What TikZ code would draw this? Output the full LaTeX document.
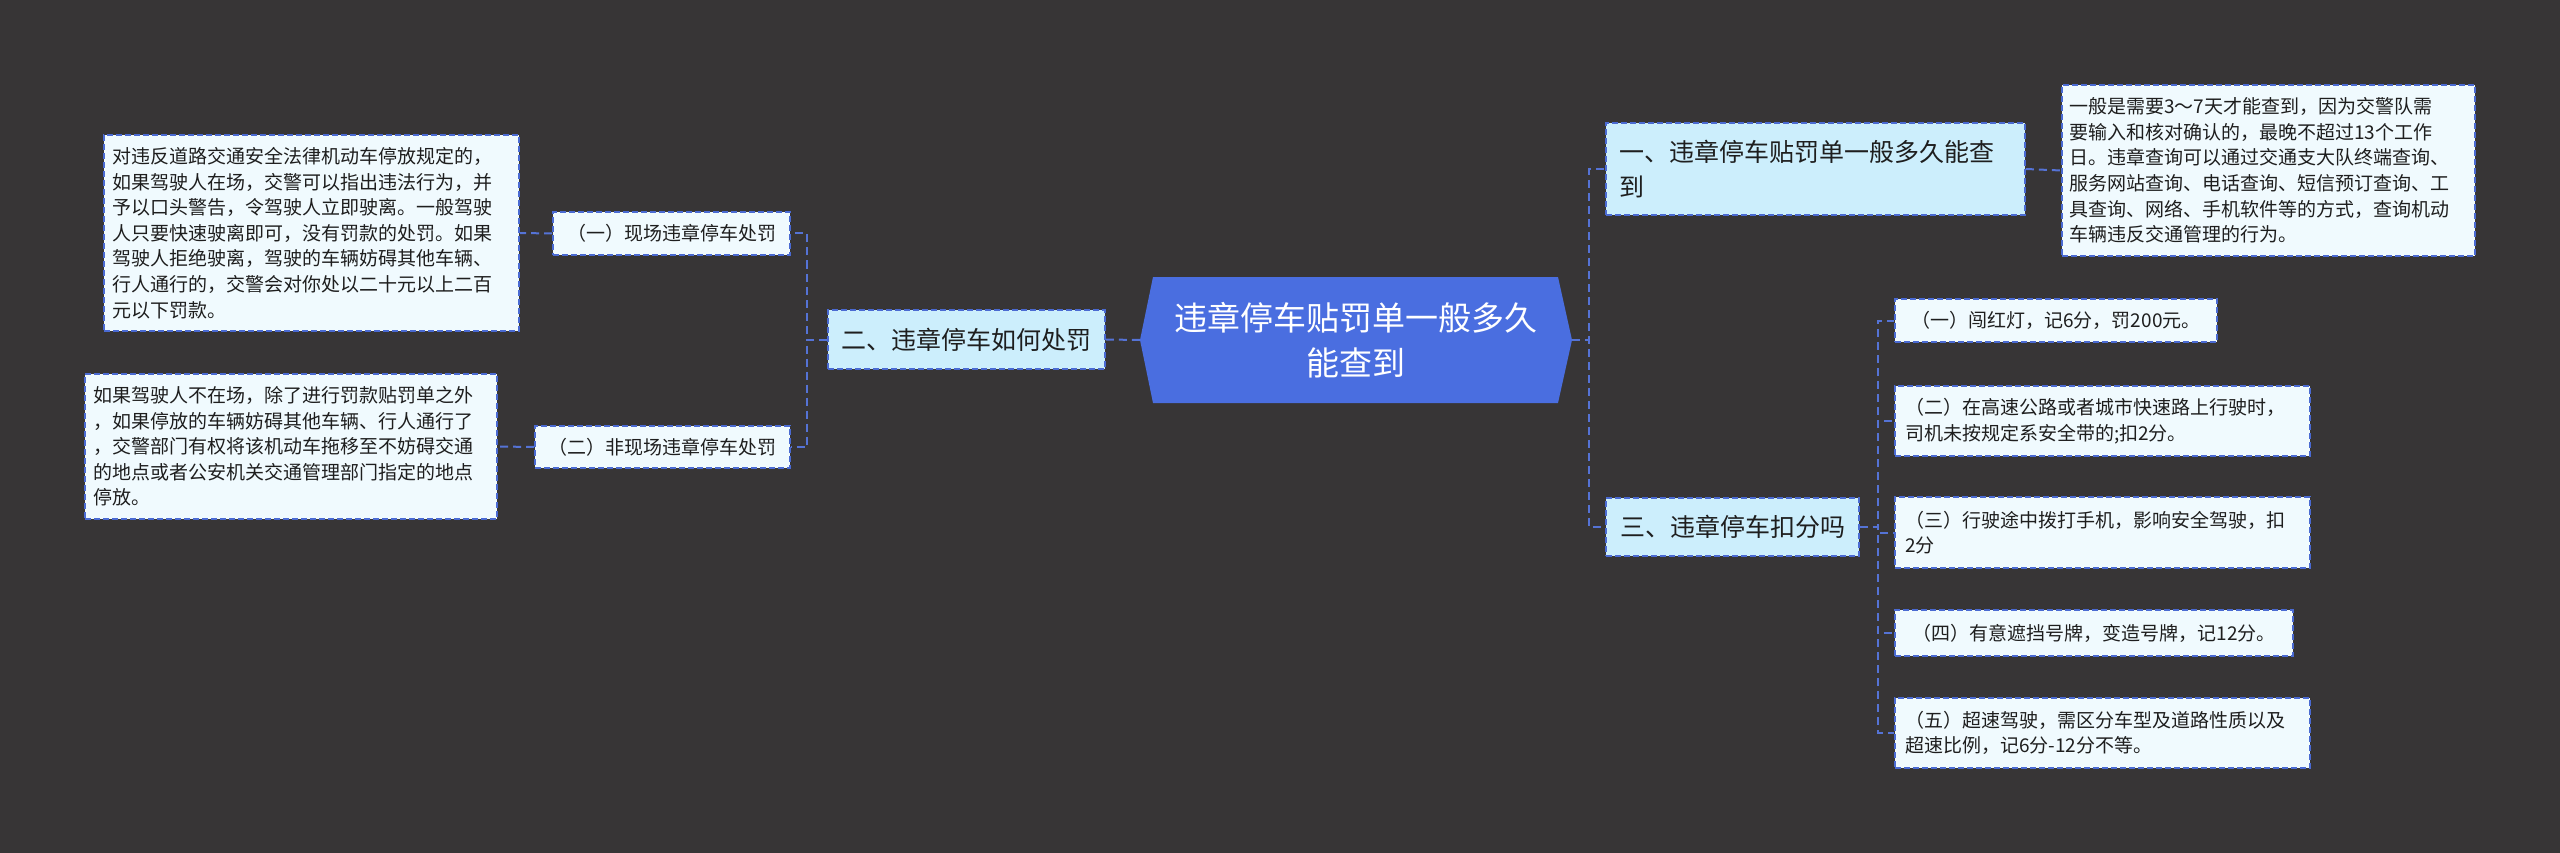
\documentclass[tikz,border=0pt]{standalone}
\usepackage{fontspec}
\setmainfont{Noto Sans CJK SC}
\definecolor{bgc}{HTML}{373536}
\definecolor{lonefill}{HTML}{CCEEFC}
\definecolor{leaffill}{HTML}{F0FAFE}
\definecolor{bordc}{HTML}{4A6AD2}
\definecolor{linec}{HTML}{5573D6}
\definecolor{centfill}{HTML}{4A6EE0}
\definecolor{txtc}{HTML}{1E1E1E}
\begin{document}
\begin{tikzpicture}[x=1pt,y=-1pt,
  boxbase/.style={draw=bordc, line width=1.8pt, dash pattern=on 6pt off 3pt, text=txtc, inner ysep=0pt},
  lvlone/.style={boxbase, fill=lonefill, font=\fontsize{25}{35}\selectfont, inner xsep=13pt},
  leaf/.style={boxbase, fill=leaffill, font=\fontsize{19}{25.6}\selectfont, inner xsep=8pt},
  conn/.style={draw=linec, line width=2pt, dash pattern=on 8pt off 5pt},
  centnode/.style={font=\fontsize{33}{45}\selectfont, text=white, align=center, inner sep=0pt}
]
\useasboundingbox (0,0) rectangle (2560,853);
\fill[bgc] (0,0) rectangle (2560,853);

% central hexagon
\fill[centfill] (1140,340) -- (1153,277) -- (1558,277) -- (1572,340) -- (1558,403) -- (1153,403) -- cycle;
\node[centnode, minimum width=432pt, minimum height=126pt] (c) at (1356,340) {违章停车贴罚单一般多久\\能查到};

% right level-one
\node[lvlone, minimum width=419pt, minimum height=92pt, text width=393pt, align=left] (n1) at (1815.5,169) {一、违章停车贴罚单一般多久能查\\到};
\node[lvlone, minimum width=253pt, minimum height=58pt] (n3) at (1732.5,527) {三、违章停车扣分吗};
% left level-one
\node[lvlone, minimum width=277pt, minimum height=59pt] (n2) at (966.5,339.5) {二、违章停车如何处罚};

% right text box
\node[leaf, inner xsep=7pt, minimum height=171pt, text width=399pt, align=left] (r1) at (2268.5,170.5) {一般是需要3～7天才能查到，因为交警队需\\要输入和核对确认的，最晚不超过13个工作\\日。违章查询可以通过交通支大队终端查询、\\服务网站查询、电话查询、短信预订查询、工\\具查询、网络、手机软件等的方式，查询机动\\车辆违反交通管理的行为。};

% children of 三
\node[leaf, minimum width=322pt, minimum height=43pt] (t1) at (2056,320.5) {（一）闯红灯，记6分，罚200元。};
\node[leaf, inner xsep=10pt, minimum height=70pt, text width=395pt, align=left] (t2) at (2102.5,421) {（二）在高速公路或者城市快速路上行驶时，\\司机未按规定系安全带的;扣2分。};
\node[leaf, inner xsep=10pt, minimum height=71pt, text width=395pt, align=left] (t3) at (2102.5,532.5) {（三）行驶途中拨打手机，影响安全驾驶，扣\\2分};
\node[leaf, minimum width=398pt, minimum height=46pt] (t4) at (2094,633) {（四）有意遮挡号牌，变造号牌，记12分。};
\node[leaf, inner xsep=10pt, minimum height=70pt, text width=395pt, align=left] (t5) at (2102.5,733) {（五）超速驾驶，需区分车型及道路性质以及\\超速比例，记6分-12分不等。};

% children of 二
\node[leaf, minimum width=237pt, minimum height=43pt] (l1) at (671.5,233.5) {（一）现场违章停车处罚};
\node[leaf, minimum width=255pt, minimum height=42pt] (l2) at (662.5,447) {（二）非现场违章停车处罚};

% left text boxes
\node[leaf, minimum height=196pt, text width=399pt, align=left] (lb1) at (311.5,233) {对违反道路交通安全法律机动车停放规定的，\\如果驾驶人在场，交警可以指出违法行为，并\\予以口头警告，令驾驶人立即驶离。一般驾驶\\人只要快速驶离即可，没有罚款的处罚。如果\\驾驶人拒绝驶离，驾驶的车辆妨碍其他车辆、\\行人通行的，交警会对你处以二十元以上二百\\元以下罚款。};
\node[leaf, minimum height=145pt, text width=396pt, align=left] (lb2) at (291,446.5) {如果驾驶人不在场，除了进行罚款贴罚单之外\\，如果停放的车辆妨碍其他车辆、行人通行了\\，交警部门有权将该机动车拖移至不妨碍交通\\的地点或者公安机关交通管理部门指定的地点\\停放。};

% connectors
\draw[conn] (c.east) -- ++(17,0) |- (n1.west);
\draw[conn] (c.east) -- ++(17,0) |- (n3.west);
\draw[conn] (c.west) -- (n2.east);
\draw[conn] (n1.east) -- (r1.west);
\foreach \t in {t1,t2,t3,t4,t5}{
  \draw[conn] (n3.east) -- ++(18,0) |- (\t.west);
}
\draw[conn] (n2.west) -- ++(-20,0) |- (l1.east);
\draw[conn] (n2.west) -- ++(-20,0) |- (l2.east);
\draw[conn] (l1.west) -- (lb1.east);
\draw[conn] (l2.west) -- (lb2.east);
\end{tikzpicture}
\end{document}
